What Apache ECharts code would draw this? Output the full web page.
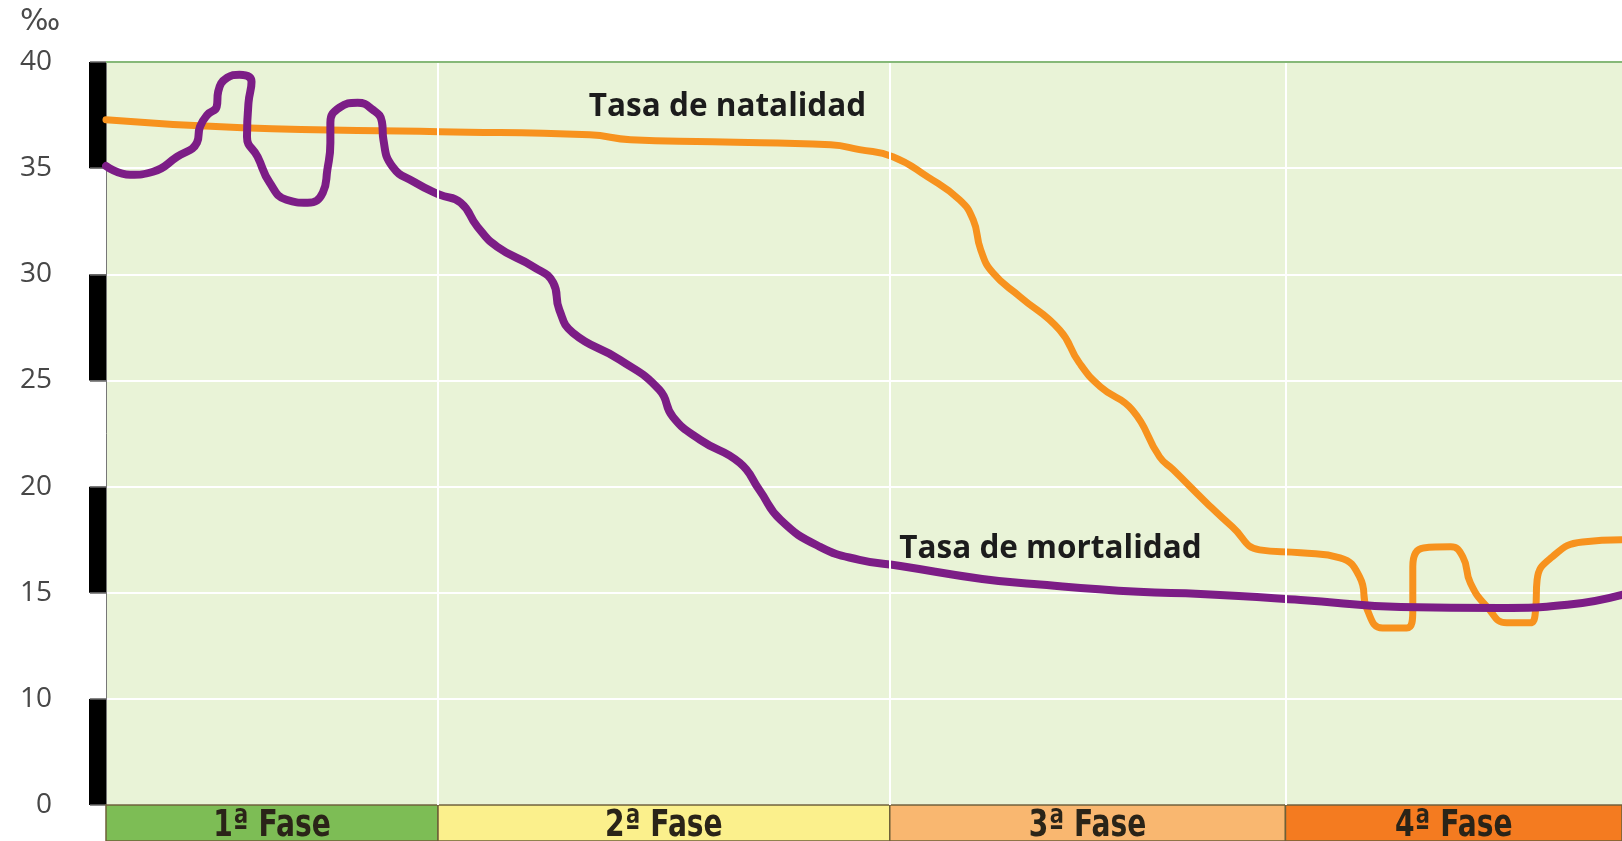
<!DOCTYPE html>
<html><head><meta charset="utf-8">
<script src="https://cdn.jsdelivr.net/npm/echarts@6/dist/echarts.min.js"></script>
<style>html,body{margin:0;padding:0;background:#fff}#c{width:1622px;height:841px}</style>
</head><body><div id="c"></div><script>
// x: time index 0..100 across the four phases; y: rate in ‰
const natalidad = [
  [0,37.28],[9.0,36.9],[22.0,36.72],[31.9,36.57],[34.6,36.34],[40.0,36.24],[47.8,36.1],
  [49.7,35.87],[51.9,35.54],[54.2,34.59],[56.3,33.51],[57.2,32.57],[57.7,31.15],[58.5,30.07],
  [60.3,28.94],[62.9,27.38],[64.2,25.83],[65.6,24.7],[67.7,23.61],[69.5,21.4],[70.4,20.79],
  [72.6,19.23],[74.3,18.1],[76.1,17.02],[78.8,16.88],[81.4,16.64],[82.7,15.74],[83.2,14.19],
  [84.2,13.34],[85.8,13.34],[86.2,14.19],[86.2,16.22],[86.9,17.11],[88.7,17.16],[89.5,16.69],
  [90.0,15.46],[91.1,14.33],[92.4,13.58],[93.9,13.58],[94.3,14.19],[94.4,15.6],[95.4,16.69],
  [97.4,17.39],[100,17.49]
];
const mortalidad = [
  [0,35.1],[1.6,34.69],[3.1,34.83],[4.7,35.54],[6.0,36.2],[6.2,36.95],[6.7,37.52],[7.3,37.89],
  [7.4,38.6],[8.0,39.26],[8.8,39.4],[9.6,39.07],[9.4,38.08],[9.3,36.48],[10.0,35.54],[10.8,34.31],
  [11.9,33.51],[13.3,33.37],[14.3,33.84],[14.6,34.92],[14.8,36.2],[14.8,37.14],[15.4,37.85],
  [16.6,38.08],[17.6,37.75],[18.2,37.19],[18.3,36.34],[18.9,35.07],[20.3,34.36],[22.0,33.75],
  [23.4,33.37],[24.5,32.24],[25.8,31.3],[28.2,30.35],[29.5,29.6],[29.9,28.33],[30.8,27.24],
  [33.9,25.97],[36.5,24.56],[37.4,23.28],[39.2,22.2],[41.8,21.12],[43.1,19.84],[44.5,18.43],
  [47.1,17.16],[49.7,16.55],[52.4,16.26],[57.8,15.65],[61.2,15.41],[68.1,15.04],[72.2,14.94],
  [78.8,14.66],[85.4,14.33],[92.0,14.28],[96.4,14.43],[100,14.9]
];
const phaseEdges = [0, 21.9, 51.7, 77.8, 100];
const phaseNames = ['1ª Fase', '2ª Fase', '3ª Fase', '4ª Fase'];
const yTickValues = [5, 10, 15, 20, 25, 30, 35, 40];
const yTickLabels = ['0', '10', '15', '20', '25', '30', '35', '40'];
const seriesLabels = [
  {text: 'Tasa de natalidad', at: [41.0, 37.9]},
  {text: 'Tasa de mortalidad', at: [62.3, 17.06]}
];

const phaseColors = ['#7dbd55', '#fbf08c', '#f9b770', '#f47b20'];
const chart = echarts.init(document.getElementById('c'));

chart.setOption({
  animation: false,
  title: {text: '‰', left: 15, top: 2, textStyle: {fontSize: 30, fontWeight: 'normal', color: '#4a4a4a', fontFamily: 'DejaVu Sans'}},
  grid: [
    {left: 106, right: 0, top: 62, bottom: 36, show: true, backgroundColor: '#e9f3d7', borderWidth: 0},
    {left: 89, width: 17, top: 62, bottom: 36, show: false},
    {left: 106, right: 0, top: 805, height: 44, show: false}
  ],
  xAxis: [
    {gridIndex: 0, type: 'value', min: 0, max: 100, show: false},
    {gridIndex: 1, type: 'value', min: 0, max: 1, show: false},
    {gridIndex: 2, type: 'value', min: 0, max: 100, show: false}
  ],
  yAxis: [
    {gridIndex: 0, type: 'value', min: 5, max: 40, interval: 5, offset: 18,
     axisLine: {show: true, lineStyle: {color: '#777', width: 1}},
     axisTick: {show: true, length: 16, lineStyle: {color: '#666', width: 1.5}},
     axisLabel: {margin: 36, fontSize: 28, color: '#474747', fontFamily: "'Open Sans', sans-serif",
       formatter: v => { const i = yTickValues.indexOf(v); return i >= 0 ? yTickLabels[i] : ''; }},
     splitLine: {show: true, lineStyle: {color: '#ffffff', width: 2}}},
    {gridIndex: 1, type: 'value', min: 5, max: 40, interval: 5,
     axisLine: {show: false}, axisTick: {show: false}, axisLabel: {show: false},
     splitLine: {show: false},
     splitArea: {show: true, areaStyle: {color: ['#000000', '#ffffff']}}},
    {gridIndex: 2, type: 'value', min: 0, max: 1, show: false}
  ],
  series: [
    {
      type: 'line', xAxisIndex: 0, yAxisIndex: 0, data: [[0, 5]], symbol: 'none', z: 1,
      lineStyle: {opacity: 0}, silent: true,
      markLine: {silent: true, symbol: 'none', label: {show: false}, animation: false,
        data: [
          ...phaseEdges.slice(1, -1).map(v => ({xAxis: v, lineStyle: {color: '#ffffff', width: 2, type: 'solid'}})),
          {yAxis: 40, lineStyle: {color: '#86b878', width: 2, type: 'solid'}}
        ]}
    },
    {
      name: 'Tasa de natalidad', type: 'line', xAxisIndex: 0, yAxisIndex: 0,
      data: natalidad, symbol: 'none', smooth: 0.5, z: 3,
      lineStyle: {color: '#f7921e', width: 7, cap: 'round', join: 'round'},
      markPoint: {symbol: 'circle', symbolSize: 0, silent: true,
        data: [{coord: seriesLabels[0].at, value: 0}],
        label: {show: true, position: 'inside', formatter: seriesLabels[0].text, fontSize: 31.5,
          fontWeight: 'bold', color: '#1c1c1c', fontFamily: "'Open Sans', sans-serif"}}
    },
    {
      name: 'Tasa de mortalidad', type: 'line', xAxisIndex: 0, yAxisIndex: 0,
      data: mortalidad, symbol: 'none', smooth: 0.5, z: 4,
      lineStyle: {color: '#7c1d86', width: 8, cap: 'round', join: 'round'},
      markPoint: {symbol: 'circle', symbolSize: 0, silent: true,
        data: [{coord: seriesLabels[1].at, value: 0}],
        label: {show: true, position: 'inside', formatter: seriesLabels[1].text, fontSize: 31.5,
          fontWeight: 'bold', color: '#1c1c1c', fontFamily: "'Open Sans', sans-serif"}}
    },
    {
      type: 'custom', xAxisIndex: 2, yAxisIndex: 2, silent: true,
      data: phaseNames.map((n, i) => [phaseEdges[i], phaseEdges[i + 1], i]),
      encode: {x: [0, 1]},
      renderItem: (params, api) => {
        const i = api.value(2);
        const a = api.coord([api.value(0), 1]);
        const b = api.coord([api.value(1), 0]);
        return {type: 'group', children: [
          {type: 'rect', shape: {x: a[0], y: a[1], width: b[0] - a[0], height: b[1] - a[1]},
           style: {fill: phaseColors[i], stroke: '#6e6038', lineWidth: 1.5}},
          {type: 'text', x: (a[0] + b[0]) / 2, y: (a[1] + b[1]) / 2 + 3, scaleX: 0.74, scaleY: 1,
           style: {text: phaseNames[i], x: 0, y: 0,
            align: 'center', verticalAlign: 'middle', fill: '#2a2418',
            font: "bold 38px 'DejaVu Sans', sans-serif"}}
        ]};
      }
    }
  ]
});
</script></body></html>
